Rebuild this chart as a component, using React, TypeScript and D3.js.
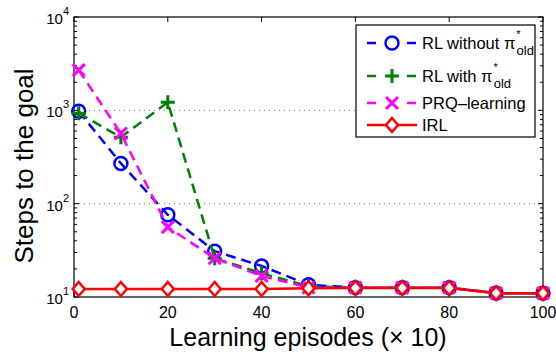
import { useRef, useEffect } from "react";
import * as d3 from "d3";

// episodes (x 10)
const episodes = [1, 10, 20, 30, 40, 50, 60, 70, 80, 90, 100];
const rlWithout = [980, 270, 76, 31, 21.5, 13.5, 12.6, 12.6, 12.6, 11, 11];
const rlWith = [930, 515, 1220, 26, 18, 13, 12.6, 12.6, 12.6, 11, 11];
const prq = [2700, 565, 56, 26, 16.8, 12.6, 12.6, 12.6, 12.6, 11, 11];
const irl = [12.2, 12.2, 12.2, 12.2, 12.2, 12.4, 12.5, 12.5, 12.5, 11, 11];
const xTicks = [0, 20, 40, 60, 80, 100];
const yTicks = [1, 2, 3, 4];

const series = [
  { name: "RL without", sub: true, values: rlWithout, color: "#0000ff", dash: "10,6", marker: "circle" },
  { name: "RL with", sub: true, values: rlWith, color: "#008000", dash: "10,6", marker: "plus" },
  { name: "PRQ\u2013learning", sub: false, values: prq, color: "#ff00ff", dash: "10,6", marker: "x" },
  { name: "IRL", sub: false, values: irl, color: "#ff0000", dash: null, marker: "diamond" },
];

const App = () => {
  const svgRef = useRef(null);

  useEffect(() => {
    const width = 556;
    const height = 354;
    const m = { left: 74, right: 13, top: 17, bottom: 57 };
    const svg = d3.select(svgRef.current);
    svg.selectAll("*").remove();
    const font = "'Liberation Sans', Arial, sans-serif";

    const x = d3.scaleLinear().domain([0, 100]).range([m.left, width - m.right]);
    const y = d3.scaleLog().domain([10, 10000]).range([height - m.bottom, m.top]);

    // grid at decades
    svg
      .append("g")
      .selectAll("line")
      .data([100, 1000])
      .join("line")
      .attr("x1", m.left)
      .attr("x2", width - m.right)
      .attr("y1", (d) => y(d))
      .attr("y2", (d) => y(d))
      .attr("stroke", "#555")
      .attr("stroke-width", 0.8)
      .attr("stroke-dasharray", "1,4");

    // box
    svg
      .append("rect")
      .attr("x", m.left)
      .attr("y", m.top)
      .attr("width", width - m.left - m.right)
      .attr("height", height - m.top - m.bottom)
      .attr("fill", "none")
      .attr("stroke", "#000")
      .attr("stroke-width", 1.2);

    // y ticks (major + minor) both sides
    const minor = [];
    for (let e = 1; e < 4; e++) for (let k = 2; k < 10; k++) minor.push(k * Math.pow(10, e));
    const yt = svg.append("g").attr("stroke", "#000").attr("stroke-width", 1);
    [...minor.map((v) => ({ v, len: 3 })), ...yTicks.map((p) => ({ v: Math.pow(10, p), len: 5 }))].forEach((t) => {
      yt.append("line").attr("x1", m.left).attr("x2", m.left + t.len).attr("y1", y(t.v)).attr("y2", y(t.v));
      yt.append("line").attr("x1", width - m.right).attr("x2", width - m.right - t.len).attr("y1", y(t.v)).attr("y2", y(t.v));
    });
    xTicks.forEach((t) => {
      yt.append("line").attr("x1", x(t)).attr("x2", x(t)).attr("y1", height - m.bottom).attr("y2", height - m.bottom - 5);
      yt.append("line").attr("x1", x(t)).attr("x2", x(t)).attr("y1", m.top).attr("y2", m.top + 5);
    });

    // tick labels
    svg
      .append("g")
      .selectAll("text")
      .data(xTicks)
      .join("text")
      .attr("x", (d) => x(d))
      .attr("y", height - m.bottom + 21)
      .attr("text-anchor", "middle")
      .attr("font-family", font)
      .attr("font-size", 16)
      .text((d) => d);
    const yl = svg
      .append("g")
      .selectAll("text")
      .data(yTicks)
      .join("text")
      .attr("x", m.left - 5)
      .attr("y", (d) => y(Math.pow(10, d)) + 7)
      .attr("text-anchor", "end")
      .attr("font-family", font)
      .attr("font-size", 15);
    yl.append("tspan").text("10");
    yl.append("tspan").attr("dy", -9).attr("font-size", 11).text((d) => d);

    // axis titles
    svg
      .append("text")
      .attr("x", 308)
      .attr("y", 346)
      .attr("text-anchor", "middle")
      .attr("font-family", font)
      .attr("font-size", 25)
      .text("Learning episodes (\u00d7 10)");
    svg
      .append("text")
      .attr("transform", `translate(33,166) rotate(-90)`)
      .attr("text-anchor", "middle")
      .attr("font-family", font)
      .attr("font-size", 26)
      .text("Steps to the goal");

    const drawMarker = (g, kind, cx, cy, color) => {
      if (kind === "circle") {
        g.append("circle").attr("cx", cx).attr("cy", cy).attr("r", 6.5).attr("fill", "none").attr("stroke", color).attr("stroke-width", 2.5);
      } else if (kind === "plus") {
        g.append("path").attr("d", `M${cx - 7},${cy}H${cx + 7}M${cx},${cy - 7}V${cy + 7}`).attr("stroke", color).attr("stroke-width", 3);
      } else if (kind === "x") {
        g.append("path").attr("d", `M${cx - 6},${cy - 6}L${cx + 6},${cy + 6}M${cx - 6},${cy + 6}L${cx + 6},${cy - 6}`).attr("stroke", color).attr("stroke-width", 3);
      } else {
        g.append("path").attr("d", `M${cx},${cy - 7}L${cx + 6},${cy}L${cx},${cy + 7}L${cx - 6},${cy}Z`).attr("fill", "#fff").attr("stroke", color).attr("stroke-width", 2.5);
      }
    };

    const line = d3
      .line()
      .x((d, i) => x(episodes[i]))
      .y((d) => y(d));

    series.forEach((s) => {
      const g = svg.append("g");
      g.append("path")
        .attr("d", line(s.values))
        .attr("fill", "none")
        .attr("stroke", s.color)
        .attr("stroke-width", 2.5)
        .attr("stroke-dasharray", s.dash);
      s.values.forEach((v, i) => drawMarker(g, s.marker, x(episodes[i]), y(v), s.color));
    });

    // legend
    const lg = svg.append("g");
    lg.append("rect")
      .attr("x", 356)
      .attr("y", 25)
      .attr("width", 179)
      .attr("height", 112)
      .attr("fill", "#fff")
      .attr("stroke", "#000")
      .attr("stroke-width", 1.2);
    const rowY = [43, 76, 103, 125];
    series.forEach((s, i) => {
      const ry = rowY[i];
      lg.append("line")
        .attr("x1", 367)
        .attr("x2", 417)
        .attr("y1", ry)
        .attr("y2", ry)
        .attr("stroke", s.color)
        .attr("stroke-width", 2.5)
        .attr("stroke-dasharray", s.dash ? "9,31" : null);
      drawMarker(lg, s.marker, 392, ry, s.color);
      const t = lg
        .append("text")
        .attr("x", 422)
        .attr("y", ry + 6)
        .attr("font-family", font)
        .attr("font-size", 16.5)
        .text(s.name + (s.sub ? " \u03c0" : ""));
      if (s.sub) {
        t.append("tspan").attr("dy", -11).attr("dx", 1).attr("font-size", 11).text("*");
        t.append("tspan").attr("dy", 17).attr("dx", -4).attr("font-size", 13).text("old");
      }
    });
  }, []);

  return (
    <svg
      ref={svgRef}
      width={556}
      height={354}
      style={{ position: "absolute", left: 0, top: 0, display: "block" }}
    ></svg>
  );
};

export default App;
